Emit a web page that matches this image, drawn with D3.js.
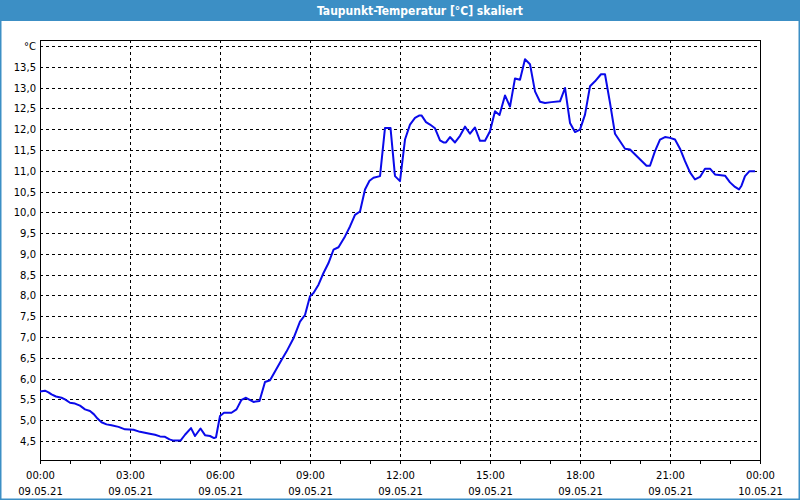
<!DOCTYPE html>
<html>
<head>
<meta charset="utf-8">
<script src="https://cdn.jsdelivr.net/npm/d3@7"></script>
<style>
  html, body { margin: 0; padding: 0; background: #fff; }
  svg { display: block; }
</style>
</head>
<body>
<svg id="chart" width="800" height="500"></svg>
<script>
// ---- data (minutes after 09.05.21 00:00, dew point in °C) ----
const title = "Taupunkt-Temperatur [°C] skaliert";
const minutes = [0,10,17,23,32,43,50,60,70,80,90,100,108,115,123,133,143,157,170,187,200,217,230,240,250,259,267,281,290,302,310,321,330,340,348,352,360,368,383,393,403,412,427,439,450,460,470,483,493,507,520,530,540,547,557,567,577,587,597,610,620,630,640,650,659,667,680,690,701,710,720,730,740,750,759,763,772,780,790,800,807,812,820,830,840,850,860,870,880,890,900,910,919,930,940,950,960,970,980,990,1000,1010,1023,1040,1050,1060,1070,1080,1090,1100,1110,1122,1130,1140,1150,1160,1170,1180,1213,1220,1230,1240,1250,1260,1270,1280,1290,1300,1310,1320,1330,1340,1350,1370,1380,1390,1398,1403,1410,1419,1430];
const values = [5.69,5.71,5.67,5.62,5.57,5.54,5.50,5.42,5.40,5.35,5.26,5.22,5.14,5.04,4.95,4.90,4.88,4.84,4.78,4.77,4.72,4.68,4.65,4.61,4.60,4.54,4.51,4.51,4.65,4.81,4.62,4.80,4.64,4.62,4.57,4.59,5.10,5.18,5.18,5.26,5.49,5.54,5.44,5.46,5.92,5.96,6.17,6.45,6.65,6.97,7.37,7.53,7.98,8.06,8.26,8.54,8.78,9.10,9.16,9.42,9.66,9.94,10.02,10.55,10.76,10.83,10.87,12.03,12.03,10.87,10.75,11.75,12.11,12.27,12.33,12.33,12.17,12.11,12.02,11.73,11.68,11.68,11.81,11.68,11.84,12.06,11.89,12.04,11.72,11.72,11.95,12.43,12.34,12.81,12.54,13.22,13.19,13.68,13.56,12.91,12.66,12.63,12.65,12.67,12.99,12.15,11.93,11.99,12.35,13.03,13.15,13.32,13.32,12.63,11.89,11.71,11.53,11.51,11.12,11.12,11.47,11.75,11.81,11.79,11.75,11.53,11.23,10.96,10.79,10.85,11.05,11.05,10.91,10.88,10.72,10.61,10.55,10.64,10.87,10.99,10.99];
const yTicks = [4.5,5.0,5.5,6.0,6.5,7.0,7.5,8.0,8.5,9.0,9.5,10.0,10.5,11.0,11.5,12.0,12.5,13.0,13.5,14.0];
const yUnitLabel = "°C";
const startTime = Date.UTC(2021, 4, 9, 0, 0);
const endTime = Date.UTC(2021, 4, 10, 0, 0);

// ---- layout ----
const svg = d3.select("#chart");
const W = 800, H = 500;
const plot = { left: 40, right: 760, top: 40, bottom: 460 };
const frameColor = "rgb(60,143,197)";

svg.append("rect").attr("x", 0).attr("y", 0).attr("width", W).attr("height", H).attr("fill", "#fff");

// title bar
svg.append("rect").attr("x", 0).attr("y", 0).attr("width", W).attr("height", 21).attr("fill", frameColor);
svg.append("text")
  .attr("x", 420).attr("y", 15)
  .attr("text-anchor", "middle")
  .attr("font-family", "'DejaVu Sans Condensed', 'Liberation Sans', sans-serif")
  .attr("font-weight", "bold")
  .attr("font-size", 12)
  .attr("fill", "#fff")
  .text(title);

// window border
svg.append("rect").attr("x", 0.75).attr("y", 0.75).attr("width", W - 1.5).attr("height", H - 1.5)
  .attr("fill", "none").attr("stroke", frameColor).attr("stroke-width", 1.5);

// scales
const x = d3.scaleUtc().domain([new Date(startTime), new Date(endTime)]).range([plot.left, plot.right]);
const y = d3.scaleLinear().domain([4.043, 14.144]).range([plot.bottom, plot.top]);
const px = v => Math.round(v) + 0.5;

const g = svg.append("g").attr("shape-rendering", "crispEdges");

// horizontal grid
g.selectAll("line.hg").data(yTicks).join("line")
  .attr("x1", plot.left).attr("x2", plot.right)
  .attr("y1", d => px(y(d))).attr("y2", d => px(y(d)))
  .attr("stroke", "#000").attr("stroke-dasharray", "3,3");

// vertical grid (every 3h)
const majorTicks = x.ticks(d3.utcHour.every(3));
g.selectAll("line.vg").data(majorTicks.filter(t => +t > startTime && +t < endTime)).join("line")
  .attr("x1", d => px(x(d))).attr("x2", d => px(x(d)))
  .attr("y1", plot.top).attr("y2", plot.bottom)
  .attr("stroke", "#000").attr("stroke-dasharray", "3,3");

// frame
g.append("rect")
  .attr("x", plot.left + 0.5).attr("y", plot.top + 0.5)
  .attr("width", plot.right - plot.left).attr("height", plot.bottom - plot.top)
  .attr("fill", "none").attr("stroke", "#000");

// x axis ticks (every hour)
const minorTicks = x.ticks(d3.utcHour.every(1));
g.selectAll("line.xt").data(minorTicks).join("line")
  .attr("x1", d => px(x(d))).attr("x2", d => px(x(d)))
  .attr("y1", plot.bottom).attr("y2", plot.bottom + 4)
  .attr("stroke", "#000");

const fontFam = "'DejaVu Sans', Verdana, sans-serif";
const fmtTime = d3.utcFormat("%H:%M");
const fmtDate = d3.utcFormat("%d.%m.%y");
const xl = svg.append("g").attr("font-family", fontFam).attr("font-size", 10).attr("fill", "#000").attr("text-anchor", "middle");
xl.selectAll("text.t").data(majorTicks).join("text")
  .attr("x", d => x(d) + 0.5).attr("y", 479).text(d => fmtTime(d));
xl.selectAll("text.d").data(majorTicks).join("text")
  .attr("x", d => x(d) + 0.5).attr("y", 495).text(d => fmtDate(d));

// y labels
const fmtY = d => d3.format(".1f")(d).replace(".", ",");
svg.append("g").attr("font-family", fontFam).attr("font-size", 10).attr("fill", "#000").attr("text-anchor", "end")
  .selectAll("text").data(yTicks).join("text")
  .attr("x", 36).attr("y", d => Math.round(y(d)) + 4)
  .text(d => d === 14 ? yUnitLabel : fmtY(d));

// data line
const data = minutes.map((m, i) => ({ t: new Date(startTime + m * 60000), v: values[i] }));
const line = d3.line().x(d => x(d.t)).y(d => y(d.v));
svg.append("path").datum(data)
  .attr("d", line)
  .attr("fill", "none")
  .attr("stroke", "#0a0aea")
  .attr("stroke-width", 2)
  .attr("stroke-linejoin", "round");
</script>
</body>
</html>
